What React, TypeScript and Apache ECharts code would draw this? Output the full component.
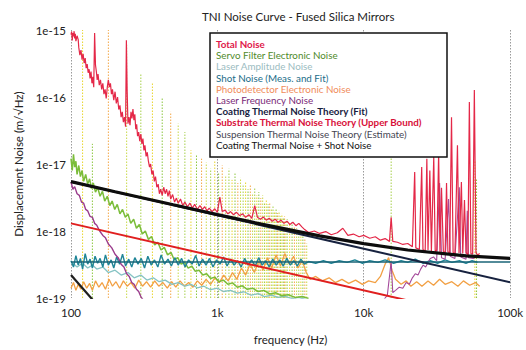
import React, { useEffect, useRef } from "react";
import * as echarts from "echarts";

// ---------- DATA (frequency in Hz, displacement noise in m/√Hz) ----------
const xTickLabels: Record<string, string> = { "2": "100", "3": "1k", "4": "10k", "5": "100k" };
const yTickLabels: Record<string, string> = { "-15": "1e-15", "-16": "1e-16", "-17": "1e-17", "-18": "1e-18", "-19": "1e-19" };
const gridLineValues = [1e-16, 1e-17, 1e-18];

const legendNames = [
  "Total Noise",
  "Servo Filter Electronic Noise",
  "Laser Amplitude Noise",
  "Shot Noise (Meas. and Fit)",
  "Photodetector Electronic Noise",
  "Laser Frequency Noise",
  "Coating Thermal Noise Theory (Fit)",
  "Substrate Thermal Noise Theory (Upper Bound)",
  "Suspension Thermal Noise Theory (Estimate)",
  "Coating Thermal Noise + Shot Noise",
];

const totalNoise: [number, number][] = [
  [100, 8.5e-16], [101, 9.5e-16], [102, 7e-16], [103, 9e-16], [104, 8e-16], [105, 9.6e-16], [106, 7.5e-16], [107, 8.8e-16],
  [108, 6.8e-16], [110, 8.2e-16], [112, 7.2e-16], [113, 5.5e-16], [115, 4.2e-16], [117, 5e-16], [119, 3.6e-16], [121, 4.4e-16],
  [123, 3.2e-16], [125, 3.8e-16], [127, 2.7e-16], [129, 3.1e-16], [131, 2.3e-16], [133, 2.6e-16], [135, 1.9e-16], [137, 2.4e-16],
  [139, 1.6e-16], [141, 2e-16], [143, 1.4e-16], [145, 9e-16], [147, 3e-16], [149, 2.4e-16], [151, 1.8e-16], [153, 2.2e-16],
  [156, 1.5e-16], [159, 1.8e-16], [162, 1.3e-16], [165, 1.6e-16], [168, 1.1e-16], [171, 1.3e-16], [174, 9.5e-17], [177, 1.4e-16],
  [180, 1.8e-16], [183, 1.4e-16], [186, 1.6e-16], [189, 1.1e-16], [192, 1.3e-16], [196, 9e-17], [200, 1.2e-16], [204, 8e-17],
  [208, 1e-16], [212, 6.5e-17], [216, 7.5e-17], [220, 5e-17], [224, 6e-17], [228, 4.2e-17], [232, 5e-17], [236, 3.6e-17],
  [239, 7e-16], [242, 1.2e-16], [245, 4e-17], [249, 5e-17], [253, 3.8e-17], [257, 6e-17], [261, 4.8e-17], [265, 6.6e-17],
  [269, 4.5e-17], [273, 5.5e-17], [277, 3.3e-17], [281, 3.9e-17], [285, 2.6e-17], [290, 3e-17], [295, 2.2e-17], [300, 2.8e-17],
  [305, 2e-17], [310, 2.4e-17], [315, 1.6e-17], [320, 1.9e-17], [326, 1.3e-17], [332, 1.5e-17], [338, 1.1e-17], [344, 9e-18],
  [350, 1e-17], [357, 7e-18], [364, 8e-18], [371, 5.5e-18], [378, 6.5e-18], [386, 4.5e-18], [394, 5e-18], [402, 3.6e-18],
  [410, 4.2e-18], [420, 3.4e-18], [430, 4.5e-18], [440, 3.6e-18], [450, 4.2e-18], [460, 3.3e-18], [470, 4e-18], [480, 3e-18],
  [495, 3.5e-18], [510, 2.7e-18], [525, 3.1e-18], [540, 2.6e-18], [560, 3e-18], [580, 2.4e-18], [600, 2.7e-18], [625, 2.3e-18],
  [650, 2.6e-18], [675, 2.2e-18], [700, 2.5e-18], [730, 2.1e-18], [760, 2.4e-18], [790, 2.1e-18], [820, 2.3e-18], [850, 2e-18],
  [880, 2.2e-18], [920, 1.95e-18], [960, 2.15e-18], [1000, 1.9e-18], [1040, 3.2e-18], [1080, 1.95e-18], [1130, 2.05e-18],
  [1180, 1.8e-18], [1230, 1.95e-18], [1290, 1.75e-18], [1350, 1.9e-18], [1420, 1.7e-18], [1490, 1.8e-18], [1560, 1.6e-18],
  [1640, 1.75e-18], [1720, 1.55e-18], [1800, 2.4e-18], [1880, 1.6e-18], [1970, 1.5e-18], [2060, 1.62e-18], [2160, 1.45e-18],
  [2260, 1.55e-18], [2370, 1.4e-18], [2480, 1.5e-18], [2600, 1.35e-18], [2720, 1.45e-18], [2850, 1.3e-18], [2990, 1.4e-18],
  [3130, 1.25e-18], [3280, 1.35e-18], [3440, 1.2e-18], [3600, 1.3e-18], [3780, 1.15e-18], [3950, 1.05e-18],
  [4200, 9.5e-19], [4600, 1.0e-18], [5000, 9.2e-19], [5500, 9.8e-19], [6000, 8.8e-19], [6600, 9.4e-19], [7200, 1.1e-18],
  [7800, 8.6e-19], [8500, 9e-19], [9300, 8.2e-19], [10000, 8.6e-19], [11000, 7.8e-19], [12000, 8.2e-19], [13000, 7.3e-19],
  [14000, 7.7e-19], [15000, 7.0e-19], [15400, 1.6e-18], [15800, 7.0e-19], [17000, 6.8e-19], [18500, 6.3e-19], [20000, 6.5e-19],
  [21500, 5.8e-19], [22300, 7.6e-18], [22700, 5.6e-19], [24000, 5.3e-19], [24900, 9e-18], [25400, 5.3e-19], [26300, 5e-19],
  [27000, 1.2e-17], [27500, 5.2e-19], [28300, 8e-18], [29000, 5e-19], [30100, 1.27e-17], [30800, 4.9e-19], [31600, 5.2e-19],
  [32500, 1.46e-17], [33200, 4.8e-19], [34000, 4.4e-18], [35000, 5e-19], [36000, 4.6e-19], [36800, 5.2e-18], [37600, 4.9e-19],
  [38700, 4.7e-19], [39800, 5e-17], [40800, 4.8e-19], [42000, 4.5e-19], [43700, 1.9e-17], [44800, 4.7e-19], [46500, 5.4e-18],
  [47500, 4.6e-19], [48800, 2.9e-18], [50000, 4.8e-19], [51500, 4.4e-19], [52700, 8.4e-17], [54000, 4.6e-19], [55500, 4.5e-19],
  [57000, 1.27e-16], [58500, 4.7e-19], [60000, 4.4e-19], [62000, 4.6e-19],
];

const servoNoise: [number, number][] = [
  [100, 1.2e-17], [102, 8e-18], [104, 1.4e-17], [106, 9e-18], [108, 1.1e-17], [110, 7e-18], [113, 9.5e-18], [116, 6.5e-18],
  [119, 8e-18], [122, 5.5e-18], [126, 7e-18], [130, 5e-18], [134, 6e-18], [138, 4.3e-18], [142, 5.2e-18], [147, 3.8e-18],
  [152, 4.5e-18], [158, 3.3e-18], [164, 3.9e-18], [170, 2.8e-18], [177, 3.3e-18], [184, 2.4e-18], [191, 2.8e-18], [199, 2.1e-18],
  [207, 2.5e-18], [216, 1.8e-18], [225, 2.1e-18], [235, 1.6e-18], [245, 1.8e-18], [256, 1.3e-18], [268, 1.5e-18], [280, 1.1e-18],
  [293, 1.25e-18], [307, 9e-19], [322, 1e-18], [338, 7.5e-19], [355, 8.3e-19], [373, 6.2e-19], [392, 6.8e-19], [412, 5.2e-19],
  [434, 5.7e-19], [457, 4.4e-19], [482, 4.8e-19], [508, 3.7e-19], [536, 4e-19], [566, 3.2e-19], [598, 3.4e-19], [632, 2.8e-19],
  [668, 3e-19], [707, 2.5e-19], [750, 2.6e-19], [795, 2.2e-19], [845, 2.3e-19], [900, 1.95e-19], [960, 2.05e-19], [1025, 1.75e-19],
  [1100, 1.85e-19], [1180, 1.6e-19], [1270, 1.68e-19], [1370, 1.45e-19], [1480, 1.52e-19], [1600, 1.35e-19], [1740, 1.4e-19],
  [1900, 1.25e-19], [2080, 1.3e-19], [2280, 1.15e-19], [2500, 1.2e-19], [2750, 1.08e-19], [3050, 1.12e-19], [3400, 1.02e-19],
  [3800, 1.05e-19], [4200, 9.8e-20],
];

const laserAmplitudeNoise: [number, number][] = [
  [100, 3.5e-19], [110, 2.9e-19], [120, 3.3e-19], [130, 2.8e-19], [140, 3.1e-19], [150, 2.7e-19], [165, 2.9e-19], [180, 2.4e-19],
  [200, 2.6e-19], [220, 2.2e-19], [245, 2.4e-19], [270, 2e-19], [300, 2.2e-19], [330, 1.85e-19], [365, 2e-19], [400, 1.75e-19],
  [440, 1.85e-19], [490, 1.6e-19], [540, 1.7e-19], [600, 1.5e-19], [660, 1.6e-19], [730, 1.42e-19], [810, 1.5e-19], [900, 1.33e-19],
  [1000, 1.4e-19], [1100, 1.25e-19], [1230, 1.3e-19], [1370, 1.18e-19], [1520, 1.24e-19], [1700, 1.1e-19], [1900, 1.16e-19],
  [2100, 1.05e-19], [2350, 1.1e-19], [2600, 1.02e-19], [2900, 1.06e-19], [3250, 9.8e-20], [3600, 1.02e-19], [4000, 9.5e-20],
];

const shotNoise: [number, number][] = [
  [100, 3.6e-19], [104, 2.9e-19], [108, 4.3e-19], [112, 3.1e-19], [116, 3.9e-19], [120, 2.7e-19], [125, 4.6e-19], [130, 3.2e-19],
  [135, 3.8e-19], [140, 2.8e-19], [146, 4.2e-19], [152, 3.3e-19], [158, 3.9e-19], [165, 2.9e-19], [172, 4.4e-19], [180, 3.1e-19],
  [188, 3.7e-19], [196, 2.8e-19], [205, 4.1e-19], [215, 3.2e-19], [225, 4.5e-19], [236, 3e-19], [248, 3.8e-19], [260, 2.9e-19],
  [273, 4e-19], [287, 3.2e-19], [302, 3.9e-19], [318, 2.8e-19], [335, 4.2e-19], [353, 3.1e-19], [372, 3.7e-19], [392, 2.9e-19],
  [413, 4.4e-19], [436, 3.2e-19], [460, 3.8e-19], [485, 3e-19], [512, 4e-19], [540, 3.1e-19], [570, 3.9e-19], [602, 2.9e-19],
  [636, 3.7e-19], [672, 3.2e-19], [710, 4.3e-19], [750, 3e-19], [792, 3.8e-19], [837, 3.1e-19], [884, 3.9e-19], [934, 2.9e-19],
  [987, 3.7e-19], [1043, 3.2e-19], [1102, 4.1e-19], [1165, 3e-19], [1231, 3.8e-19], [1301, 3.1e-19], [1375, 3.6e-19],
  [1453, 2.9e-19], [1536, 3.9e-19], [1623, 3.1e-19], [1715, 3.7e-19], [1813, 3e-19], [1916, 4e-19], [2025, 3.1e-19],
  [2140, 3.6e-19], [2262, 2.9e-19], [2390, 3.8e-19], [2526, 3.1e-19], [2670, 3.7e-19], [2822, 3e-19], [2982, 3.9e-19],
  [3152, 3.1e-19], [3331, 3.6e-19], [3520, 3e-19], [3720, 3.8e-19], [3932, 3.2e-19],
  [4200, 3.5e-19], [4700, 3.3e-19], [5300, 3.6e-19], [6000, 3.3e-19], [6800, 3.6e-19], [7700, 3.4e-19], [8700, 3.7e-19],
  [9800, 3.3e-19], [11000, 3.6e-19], [12500, 3.4e-19], [14000, 3.7e-19], [16000, 3.3e-19], [18000, 3.6e-19], [20000, 3.4e-19],
  [22500, 3.8e-19], [25500, 3.3e-19], [28500, 3.6e-19], [32000, 3.3e-19], [36000, 3.7e-19], [40000, 3.4e-19], [45000, 3.6e-19],
  [50000, 3.3e-19], [55000, 3.6e-19], [60000, 3.4e-19],
];
const shotNoiseFit: [number, number][] = [[100, 3.45e-19], [100000, 3.45e-19]];

const photodetectorNoise: [number, number][] = [
  [100, 1.4e-19], [104, 1.7e-19], [108, 1.3e-19], [112, 1.6e-19], [117, 1.35e-19], [122, 1.75e-19], [128, 1.4e-19], [134, 1.65e-19],
  [140, 1.3e-19], [147, 1.8e-19], [155, 1.45e-19], [163, 1.7e-19], [172, 1.35e-19], [182, 1.9e-19], [192, 1.5e-19], [203, 1.75e-19],
  [215, 1.4e-19], [228, 1.8e-19], [242, 1.5e-19], [257, 1.7e-19], [273, 1.4e-19], [290, 1.85e-19], [308, 1.5e-19], [328, 1.75e-19],
  [350, 1.45e-19], [373, 1.8e-19], [398, 1.5e-19], [425, 1.7e-19], [455, 1.4e-19], [487, 1.75e-19], [520, 1.45e-19], [556, 1.8e-19],
  [595, 1.5e-19], [637, 1.7e-19], [682, 1.45e-19], [730, 1.8e-19], [782, 1.55e-19], [838, 1.9e-19], [898, 1.6e-19], [962, 2e-19],
  [1030, 1.7e-19], [1105, 2.2e-19], [1185, 1.8e-19], [1270, 2.4e-19], [1360, 1.9e-19], [1460, 2.8e-19], [1560, 2.2e-19],
  [1670, 3.2e-19], [1790, 2.4e-19], [1920, 3.6e-19], [2050, 2.6e-19], [2200, 4e-19], [2350, 2.8e-19], [2520, 4.4e-19],
  [2700, 3e-19], [2890, 4.6e-19], [3100, 3.2e-19], [3320, 4.2e-19], [3550, 2.8e-19], [3800, 3.6e-19], [4050, 2.4e-19],
  [4300, 1.9e-19], [4700, 2.1e-19], [5200, 1.8e-19], [5800, 2e-19], [6400, 1.7e-19], [7100, 1.9e-19], [7900, 1.65e-19],
  [8800, 1.85e-19], [9800, 1.6e-19], [10800, 1.8e-19], [12000, 1.7e-19], [13000, 2.1e-19], [14000, 3.2e-19], [14800, 4e-19],
  [15600, 2.6e-19], [16500, 1.9e-19], [18000, 1.6e-19], [19500, 1.8e-19], [21000, 1.5e-19], [23000, 1.75e-19], [25000, 1.5e-19],
  [27500, 1.8e-19], [30000, 1.55e-19], [33000, 1.9e-19], [36000, 1.6e-19], [40000, 1.75e-19], [44000, 1.5e-19], [48000, 1.8e-19],
  [53000, 1.55e-19], [58000, 1.7e-19], [62000, 1.5e-19],
];

const laserFrequencyNoiseLow: [number, number][] = [
  [100, 5.4e-18], [103, 4.2e-18], [106, 4.6e-18], [110, 3.6e-18], [114, 3.4e-18], [118, 2.7e-18], [122, 2.6e-18], [126, 2.1e-18],
  [130, 2.0e-18], [135, 1.65e-18], [140, 1.6e-18], [145, 1.3e-18], [150, 1.22e-18], [157, 1.0e-18], [165, 8.6e-19], [172, 7.9e-19],
  [180, 6.4e-19], [190, 5.6e-19], [200, 4.5e-19], [210, 4.0e-19], [220, 3.2e-19], [230, 2.9e-19], [240, 2.3e-19], [250, 2.1e-19],
  [260, 1.7e-19], [270, 1.6e-19], [280, 1.35e-19], [290, 1.25e-19], [300, 1.05e-19], [320, 8.5e-20],
];
const laserFrequencyNoiseHigh: [number, number][] = [
  [13500, 9e-20], [14500, 1.1e-19], [15400, 3.5e-19], [15800, 1.2e-19], [16500, 1.3e-19], [17500, 1.45e-19], [18500, 1.4e-19],
  [19500, 1.7e-19], [20500, 1.6e-19], [21500, 2e-19], [22500, 2.3e-19], [23500, 2.2e-19], [24500, 2.7e-19], [25500, 3.1e-19],
  [26500, 2.9e-19], [27500, 3.4e-19], [28500, 3.9e-19], [30000, 4.1e-19], [31500, 3.6e-19], [33000, 5.2e-18], [34000, 4e-19],
  [36000, 3.8e-19], [38000, 3e-18], [39000, 4.2e-19], [42000, 3.9e-19], [45000, 4.5e-18], [46000, 4.1e-19], [50000, 3.8e-19],
  [51000, 2e-18], [52000, 4e-19], [56000, 3.9e-19], [60000, 4.2e-19],
];

const coatingThermalFit: [number, number][] = [[100, 5.44e-18], [100000, 1.72e-19]];
const substrateThermal: [number, number][] = [[100, 1.3e-18], [20000, 9.2e-20]];
const suspensionThermal: [number, number][] = [[100, 2.2e-19], [200, 3.9e-20]];
const coatingPlusShot: [number, number][] = [
  [100, 5.45e-18], [200, 3.86e-18], [500, 2.46e-18], [1000, 1.756e-18], [2000, 1.265e-18], [5000, 8.45e-19],
  [10000, 6.47e-19], [20000, 5.2e-19], [50000, 4.26e-19], [100000, 3.9e-19],
];

// harmonic pickup lines: [frequency, top value]; drawn from spikeBase up
const spikeBase = 1e-19;
const harmonicSpikes: [number, number][] = [
  [120, 1e-15], [140, 2e-17], [180, 1e-15], [240, 6e-16], [300, 2.2e-16], [360, 1.6e-16], [420, 1e-16], [480, 6e-17],
  [540, 4e-17], [600, 3e-17], [660, 1.6e-17], [720, 1.4e-17], [780, 1.2e-17], [840, 1.05e-17], [900, 8.5e-18], [960, 1.15e-17],
  [1020, 7.5e-18], [1080, 9.5e-18], [1140, 6.5e-18], [1200, 8.5e-18], [1260, 5.8e-18], [1320, 7.2e-18], [1380, 5.2e-18],
  [1440, 6.2e-18], [1500, 4.8e-18], [1560, 5.4e-18], [1620, 4.2e-18], [1680, 4.9e-18], [1740, 3.7e-18], [1800, 4.4e-18],
  [1860, 3.4e-18], [1920, 3.8e-18], [1980, 3.1e-18], [2040, 3.4e-18], [2100, 2.7e-18], [2160, 3e-18], [2220, 2.5e-18],
  [2280, 2.7e-18], [2340, 2.2e-18], [2400, 2.4e-18], [2460, 2e-18], [2520, 2.2e-18], [2580, 1.85e-18], [2640, 2e-18],
  [2700, 1.65e-18], [2760, 1.8e-18], [2820, 1.55e-18], [2880, 1.65e-18], [2940, 1.4e-18], [3000, 1.5e-18], [3120, 1.3e-18],
  [3240, 1.35e-18], [3360, 1.15e-18], [3480, 1.1e-18], [3600, 1e-18], [3720, 9e-19], [3840, 8.5e-19], [3960, 7.5e-19],
  [4080, 6.5e-19], [15400, 1.27e-17], [57500, 1.1e-17], [59000, 6e-18],
];

// ---------- CHART ----------
const FONT = "Lato, 'Open Sans', sans-serif";
const spikePalette = ["#e8d52c", "#8cc63f", "#f3a848", "#c9d94a", "#a6cf4a"];

export default function App() {
  const ref = useRef<HTMLDivElement>(null);
  useEffect(() => {
    if (!ref.current) return;
    const chart = echarts.init(ref.current, undefined, { renderer: "svg" });
    const noiseLine = (name: string, data: [number, number][], color: string, width = 1, z = 2) => ({
      type: "line",
      name,
      data,
      showSymbol: false,
      symbol: "none",
      z,
      lineStyle: { color, width },
      itemStyle: { color },
      clip: true,
    });
    const legendColors = [
      "#e0184a", "#4f8a2a", "#9bbcbf", "#1b6c88", "#f08c5a", "#7a2a78", "#17223f", "#d8103a", "#454552", "#111111",
    ];
    const legendBold = [true, false, false, false, false, false, true, true, false, false];
    const legendX = 210, legendY = 33, lineStep = 11.2;
    const option: any = {
      animation: false,
      backgroundColor: "#ffffff",
      title: {
        text: "TNI Noise Curve - Fused Silica Mirrors",
        left: 197,
        top: 5,
        textStyle: { fontFamily: FONT, fontSize: 11.5, fontWeight: "normal", color: "#222" },
      },
      grid: { left: 71, right: 12, top: 30, bottom: 52 },
      xAxis: {
        type: "log",
        logBase: 10,
        min: 100,
        max: 100000,
        name: "frequency (Hz)",
        nameLocation: "middle",
        nameGap: 35,
        nameTextStyle: { fontFamily: FONT, fontSize: 11.5, color: "#222" },
        axisLine: { show: false },
        axisTick: { show: false },
        axisLabel: {
          margin: 8,
          fontFamily: FONT,
          fontSize: 11.5,
          color: "#222",
          showMinLabel: true,
          showMaxLabel: true,
          formatter: (v: number) => xTickLabels[String(Math.round(Math.log10(v)))] ?? "",
        },
        splitLine: { show: true, lineStyle: { type: [1.5, 1.5], color: "#9a9a9a", width: 1 } },
      },
      yAxis: {
        type: "log",
        logBase: 10,
        min: 1e-19,
        max: 1e-15,
        name: "Displacement Noise (m/√Hz)",
        nameLocation: "middle",
        nameGap: 43,
        nameTextStyle: { fontFamily: FONT, fontSize: 11.5, color: "#222" },
        axisLine: { show: false },
        axisTick: { show: false },
        axisLabel: {
          margin: 5,
          fontFamily: FONT,
          fontSize: 11.5,
          color: "#222",
          showMinLabel: true,
          showMaxLabel: true,
          formatter: (v: number) => yTickLabels[String(Math.round(Math.log10(v)))] ?? "",
        },
        splitLine: { show: false },
      },
      series: [
        {
          type: "custom",
          name: "harmonics",
          clip: true,
          z: 1,
          data: harmonicSpikes.map(([f, top]) => [f, spikeBase, top]),
          encode: { x: 0, y: [1, 2] },
          renderItem: (params: any, api: any) => {
            const p1 = api.coord([api.value(0), api.value(1)]);
            const p2 = api.coord([api.value(0), api.value(2)]);
            return {
              type: "line",
              shape: { x1: p1[0], y1: p1[1], x2: p2[0], y2: p2[1] },
              style: { stroke: spikePalette[params.dataIndex % spikePalette.length], lineWidth: 1, lineDash: [1.5, 1.5] },
            };
          },
        },
        {
          type: "line",
          name: "grid",
          data: [],
          markLine: {
            silent: true,
            symbol: "none",
            label: { show: false },
            lineStyle: { color: "#4d5868", width: 1.3, type: "solid" },
            data: gridLineValues.map((v) => ({ yAxis: v })),
          },
        },
        noiseLine(legendNames[4], photodetectorNoise, "#f2a044", 1.3),
        noiseLine(legendNames[2], laserAmplitudeNoise, "#86c3c4", 1.3),
        noiseLine(legendNames[1], servoNoise, "#7bbd3a", 1.5),
        noiseLine(legendNames[3], shotNoise, "#1f8597", 1.4),
        noiseLine(legendNames[3] + " fit", shotNoiseFit, "#1a6577", 1.6, 3),
        noiseLine(legendNames[5], laserFrequencyNoiseLow, "#9a3c8c", 1.4),
        noiseLine(legendNames[5] + " HF", laserFrequencyNoiseHigh, "#a4489a", 1.1),
        noiseLine(legendNames[0], totalNoise, "#e42848", 1.2, 3),
        noiseLine(legendNames[7], substrateThermal, "#e01f1f", 2, 4),
        noiseLine(legendNames[8], suspensionThermal, "#1e1e1e", 2.2, 4),
        noiseLine(legendNames[6], coatingThermalFit, "#17223f", 2, 4),
        noiseLine(legendNames[9], coatingPlusShot, "#0d0d0d", 3.2, 5),
      ],
      graphic: [
        {
          type: "group",
          z: 100,
          children: [
            {
              type: "rect",
              shape: { x: legendX, y: legendY, width: 237, height: 124 },
              style: { fill: "#ffffff", stroke: "#111", lineWidth: 1.5 },
              z: 100,
            },
            ...legendNames.map((name, i) => ({
              type: "text",
              x: legendX + 6,
              y: legendY + 11 + i * lineStep,
              z: 101,
              style: {
                text: name,
                fill: legendColors[i],
                font: `${legendBold[i] ? "bold " : ""}9.8px ${FONT}`,
                verticalAlign: "middle",
              },
            })),
          ],
        },
      ],
    };
    chart.setOption(option);
    return () => chart.dispose();
  }, []);
  return (
    <div
      ref={ref}
      style={{ position: "fixed", left: 0, top: 0, width: 526, height: 350, background: "#fff" }}
    />
  );
}
